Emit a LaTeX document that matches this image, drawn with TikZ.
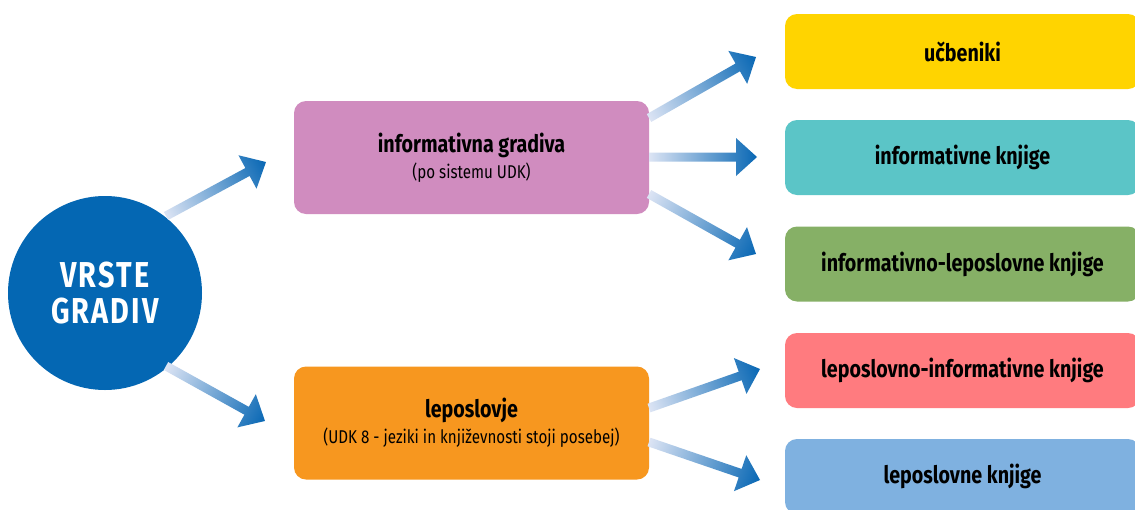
\documentclass[tikz,border=0pt]{standalone}
\usepackage{fontspec}
\setmainfont{Fira Sans}[FakeStretch=0.82]
\newfontfamily\circfont{Fira Sans}[FakeStretch=0.8, LetterSpace=6]
\usetikzlibrary{calc}
\definecolor{circblue}{HTML}{0467B3}
\definecolor{pinkbox}{HTML}{D08CBF}
\definecolor{orangebox}{HTML}{F7971F}
\definecolor{yellowbox}{HTML}{FFD400}
\definecolor{tealbox}{HTML}{5BC5C7}
\definecolor{greenbox}{HTML}{86B066}
\definecolor{redbox}{HTML}{FF7B7F}
\definecolor{bluebox}{HTML}{7FB1E0}
\definecolor{arrL}{HTML}{DCE4F4}
\definecolor{arrD}{HTML}{0867B4}
\newcommand\gradarrow[2]{%
  \path let \p1=(#1), \p2=(#2), \n1={atan2(\y2-\y1,\x2-\x1)}, \n2={veclen(\x2-\x1,\y2-\y1)} in
    \pgfextra{\xdef\garang{\n1}\xdef\garlen{\n2}};
  \shade[transform canvas={shift={(#1)},rotate=\garang}, left color=arrL, right color=arrD]
    (0pt,-4.5pt) -- (\garlen-21pt,-4.5pt) -- (\garlen-21pt,-19pt) -- (\garlen,0pt)
    -- (\garlen-21pt,19pt) -- (\garlen-21pt,4.5pt) -- (0pt,4.5pt) -- cycle;
}
\begin{document}
\begin{tikzpicture}[x=1pt,y=-1pt,
  box/.style={rounded corners=12pt, inner sep=0pt, align=center, text=black},
  midbox/.style={box, minimum width=355pt, minimum height=113pt},
  rightbox/.style={box, minimum width=355pt, minimum height=75pt,
    font=\bfseries\fontsize{24}{28}\selectfont}]
\useasboundingbox (0,0) rectangle (1135,509);
\fill[white] (0,0) rectangle (1135,509);

\node[circle, fill=circblue, minimum size=194pt, inner sep=0pt, align=center,
  text=white, font=\circfont\bfseries\fontsize{36}{36}\selectfont] (vg) at (105,293) {VRSTE\\GRADIV};

\node[midbox, fill=pinkbox] (ig) at (471.5,157.5)
  {{\bfseries\fontsize{24}{28}\selectfont informativna gradiva}\\[4pt]
   {\fontsize{18.5}{22}\selectfont (po sistemu UDK)}};
\node[midbox, fill=orangebox] (lep) at (471.5,423)
  {{\bfseries\fontsize{24}{28}\selectfont leposlovje}\\[4pt]
   {\fontsize{18.5}{22}\selectfont (UDK 8 - jeziki in književnosti stoji posebej)}};

\node[rightbox, fill=yellowbox] (ucb) at (962.5,51.5) {učbeniki};
\node[rightbox, fill=tealbox] (ik) at (962.5,157.5) {informativne knjige};
\node[rightbox, fill=greenbox] (ilk) at (962.5,264) {informativno-leposlovne knjige};
\node[rightbox, fill=redbox] (lik) at (962.5,370.5) {leposlovno-informativne knjige};
\node[rightbox, fill=bluebox] (lk) at (962.5,476.5) {leposlovne knjige};

\coordinate (s1) at (166,216);  \coordinate (t1) at (266,162);
\coordinate (s2) at (166,366);  \coordinate (t2) at (265,421);
\coordinate (s3) at (649,118);  \coordinate (t3) at (756,57);
\coordinate (s4) at (649,157);  \coordinate (t4) at (757,157);
\coordinate (s5) at (649,194);  \coordinate (t5) at (756,254);
\coordinate (s6) at (649,408);  \coordinate (t6) at (760,369);
\coordinate (s7) at (649,442);  \coordinate (t7) at (760,480);
\gradarrow{s1}{t1}
\gradarrow{s2}{t2}
\gradarrow{s3}{t3}
\gradarrow{s4}{t4}
\gradarrow{s5}{t5}
\gradarrow{s6}{t6}
\gradarrow{s7}{t7}
\end{tikzpicture}
\end{document}
